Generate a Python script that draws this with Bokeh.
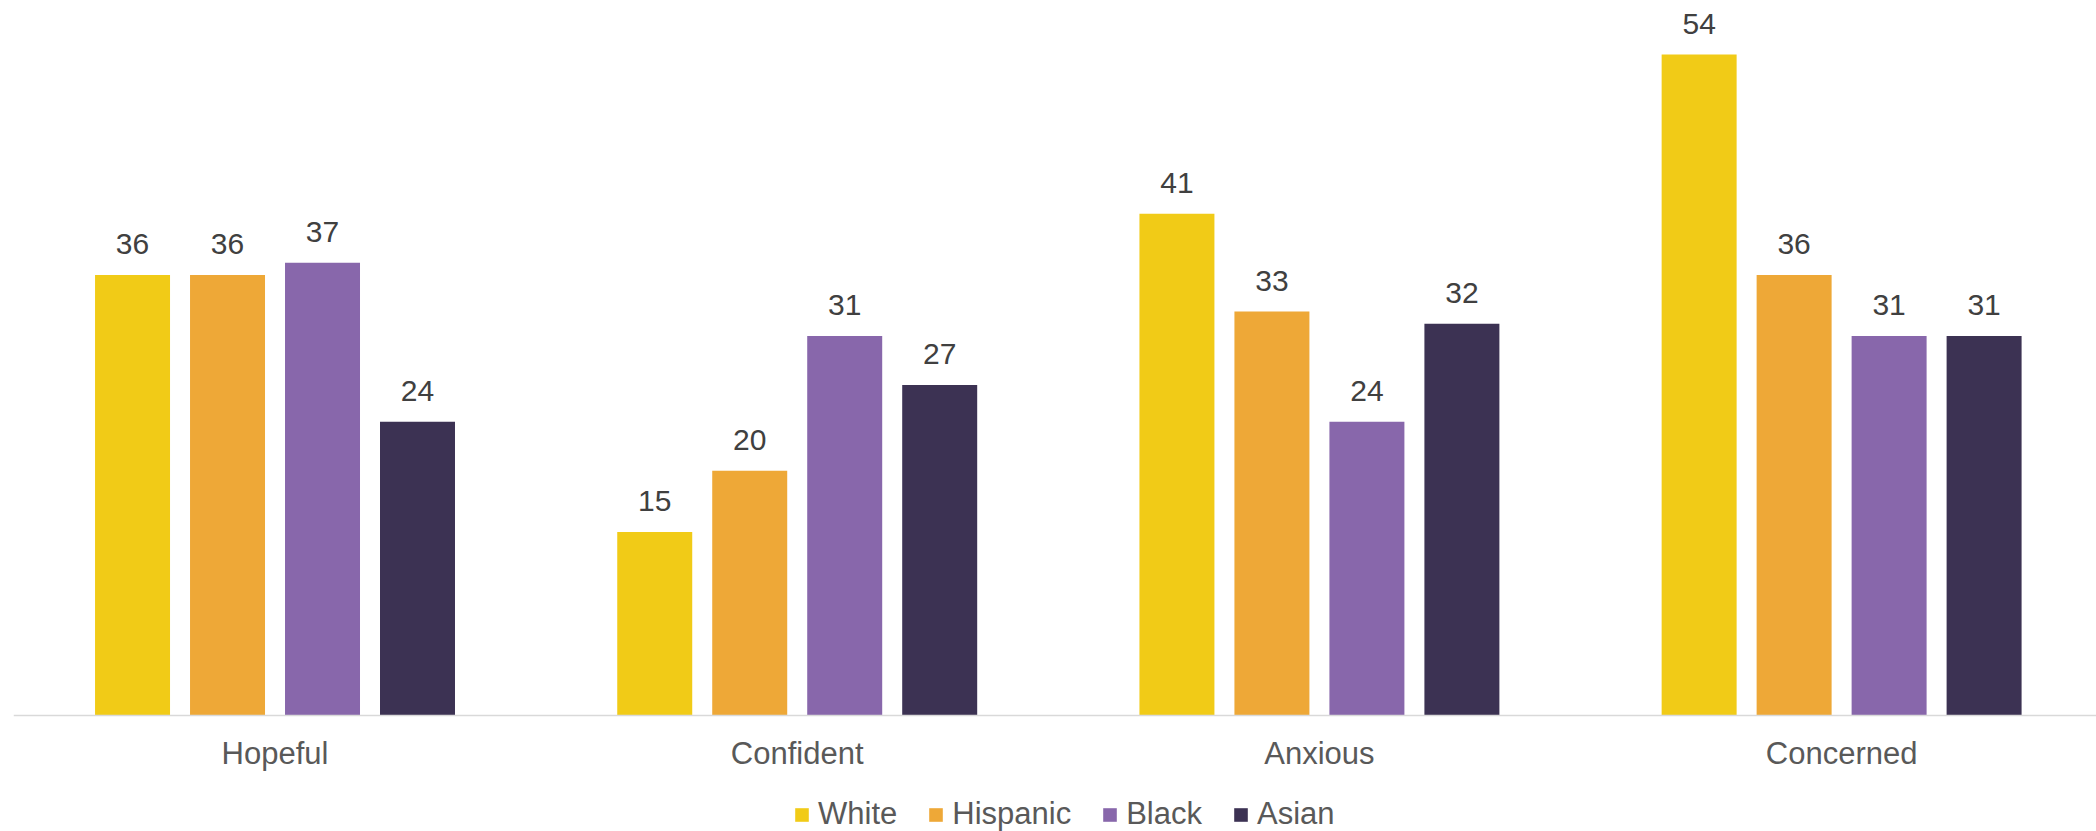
from bokeh.plotting import figure
from bokeh.models import (ColumnDataSource, Range1d, Legend, LegendItem, Span)
from bokeh.transform import dodge
from bokeh.core.properties import value
from bokeh.embed import file_html
from bokeh.resources import INLINE

categories = ["Hopeful", "Confident", "Anxious", "Concerned"]
series = ["White", "Hispanic", "Black", "Asian"]
white = [36, 15, 41, 54]
hispanic = [36, 20, 33, 36]
black = [37, 31, 24, 31]
asian = [24, 27, 32, 31]
colors = ["#F1CB17", "#EEA837", "#8867AB", "#3C3253"]

FONT = "Liberation Sans"
idx = list(range(len(categories)))
src = ColumnDataSource(dict(idx=idx, cat=categories, zero=[0] * len(idx),
                            White=white, Hispanic=hispanic,
                            Black=black, Asian=asian,
                            White_t=[str(v) for v in white],
                            Hispanic_t=[str(v) for v in hispanic],
                            Black_t=[str(v) for v in black],
                            Asian_t=[str(v) for v in asian]))

# frame spans whole figure height; value 0 sits at y=715 px
p = figure(width=2096, height=831, output_backend="svg", toolbar_location=None,
           x_range=Range1d(-0.5008, 3.4881), y_range=Range1d(-9.477, 58.42),
           x_axis_location=None, y_axis_location=None,
           min_border_left=13, min_border_right=0,
           min_border_top=0, min_border_bottom=0)
p.outline_line_color = None
p.xgrid.visible = False
p.ygrid.visible = False
p.background_fill_color = "white"
p.border_fill_color = "white"

step = 0.1819
bw = 0.1436
offsets = [-1.5 * step, -0.5 * step, 0.5 * step, 1.5 * step]
items = []
for s, c, off in zip(series, colors, offsets):
    r = p.vbar(x=dodge("idx", off), top=s, width=bw, bottom=0, source=src,
               fill_color=c, line_color=None)
    p.text(x=dodge("idx", off), y=s, text=s + "_t", source=src,
           text_align="center", text_baseline="alphabetic", y_offset=-31,
           text_font=value(FONT), text_font_size="30px", text_color="#404040")
    items.append(LegendItem(label=s, renderers=[r]))

# category axis: baseline line and labels
p.add_layout(Span(location=0, dimension="width", line_color="#D9D9D9",
                  line_width=1.5))
p.text(x="idx", y="zero", text="cat", source=src, text_align="center",
       text_baseline="alphabetic", y_offset=38, text_font=value(FONT),
       text_font_size="31px", text_color="#595959")

legend = Legend(items=items, orientation="horizontal", location=(780, -1),
                glyph_width=17, glyph_height=17, label_standoff=8, spacing=30,
                padding=0, margin=0, border_line_color=None,
                background_fill_alpha=0,
                label_text_font=FONT, label_text_font_size="31px",
                label_text_color="#595959")
p.add_layout(legend, "center")

open("out.html", "w").write(file_html(p, INLINE))
